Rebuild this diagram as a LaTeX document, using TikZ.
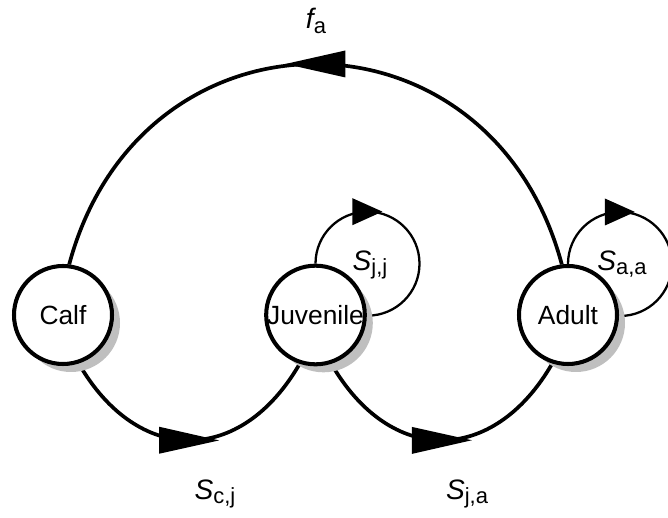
\documentclass[tikz,border=0pt]{standalone}
\usepackage{fontspec}
\setmainfont{Liberation Sans}
\usetikzlibrary{arrows.meta,positioning,calc,shadows,backgrounds,decorations.markings}

% rate label: italic letter with upright subscript
\newcommand{\rate}[2]{{\fontsize{16}{18}\selectfont\itshape #1}\raisebox{-2.5pt}{\fontsize{12.5}{14}\selectfont #2}}

\begin{document}
\begin{tikzpicture}[auto, >=Stealth,
  stage/.style={circle, draw, line width=2.3pt, fill=white, inner sep=0pt,
    minimum size=1.96cm, font=\fontsize{15}{18}\selectfont,
    drop shadow={shadow xshift=0.16cm, shadow yshift=-0.16cm, fill=black!25, opacity=1}},
  flow/.style={line width=2.1pt},
  selfflow/.style={line width=1.3pt},
  midhead/.style={postaction={decorate, decoration={markings,
    mark=at position 0.5 with {\fill (0.6,0) -- (-0.6,0.27) -- (-0.6,-0.27) -- cycle;}}}},
  loophead/.style={postaction={decorate, decoration={markings,
    mark=at position 0.333 with {\fill (0.3,0) -- (-0.3,0.27) -- (-0.3,-0.27) -- cycle;}}}}]

  \useasboundingbox (0,0) rectangle (13.36,10.36);

  % Define nodes
  \node[stage] (calf) at (1.26, 4.06) {Calf};
  \node[stage] (juv) at (6.31, 4.06) {Juvenile};
  \node[stage] (adult) at (11.36, 4.06) {Adult};

  % Rate labels
  \node (fa) at (6.32, 9.94) {\rate{f}{a}};
  \node (scj) at (4.30, 0.48) {\rate{S}{c,j}};
  \node (sja) at (9.34, 0.48) {\rate{S}{j,a}};
  \node (sjj) at (7.40, 5.06) {\rate{S}{j,j}};
  \node (saa) at (12.44, 5.08) {\rate{S}{a,a}};

  % Draw arrows behind the stages
  \begin{pgfonlayer}{background}
    \draw[flow, midhead] (adult.97) to[out=105, in=75, looseness=1.44] (calf.83);
    \draw[flow, midhead] (calf.-72) to[out=-60, in=-120, looseness=1.37] (juv.-108);
    \draw[flow, midhead] (juv.-72) to[out=-60, in=-120, looseness=1.37] (adult.-108);
    \draw[selfflow, loophead] (juv.north) arc[start angle=180, end angle=-90, radius=1.04cm];
    \draw[selfflow, loophead] (adult.north) arc[start angle=180, end angle=-90, radius=1.04cm];
  \end{pgfonlayer}
\end{tikzpicture}
\end{document}
